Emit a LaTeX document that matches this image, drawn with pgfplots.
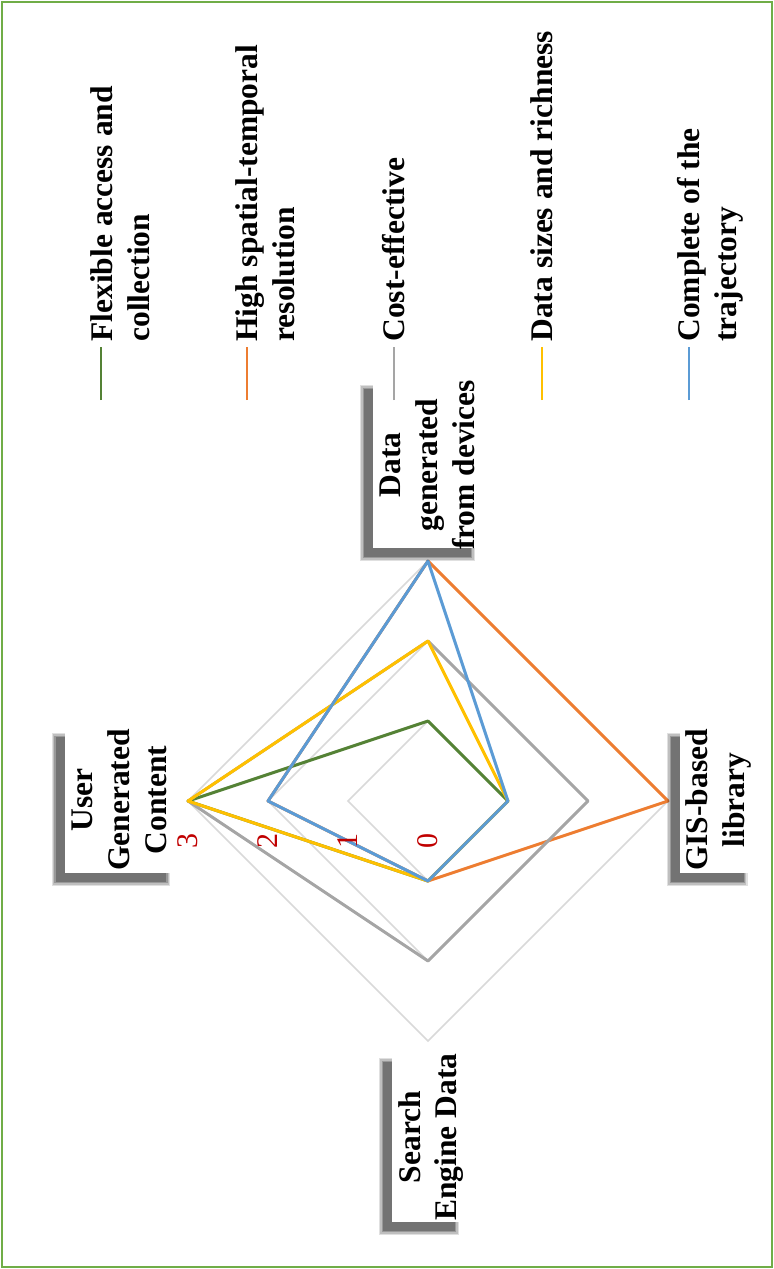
\documentclass[border=0pt]{standalone}
\usepackage{pgfplots}
\pgfplotsset{compat=1.18}
\usepackage{fontspec}
\setmainfont{Liberation Serif}
\definecolor{cgreen}{HTML}{548235}
\definecolor{corange}{HTML}{ED7D31}
\definecolor{cgray}{HTML}{A5A5A5}
\definecolor{cyellow}{HTML}{FFC000}
\definecolor{cblue}{HTML}{5B9BD5}
\definecolor{cgrid}{HTML}{D9D9D9}
\definecolor{cframe}{HTML}{70AD47}
\definecolor{ctick}{HTML}{C00000}
\newcommand{\shbox}[4]{%
 \fill[black, opacity=0.12] ([shift={(-6.5pt,-6.5pt)}]axis cs:#1,#2) rectangle ([shift={(-2.5pt,-2.5pt)}]axis cs:#3,#4);
 \fill[black, opacity=0.15] ([shift={(-5.8pt,-5.8pt)}]axis cs:#1,#2) rectangle ([shift={(-3.2pt,-3.2pt)}]axis cs:#3,#4);
 \fill[black, opacity=0.2] ([shift={(-5.2pt,-5.2pt)}]axis cs:#1,#2) rectangle ([shift={(-3.8pt,-3.8pt)}]axis cs:#3,#4);
 \fill[black, opacity=0.25] ([shift={(-4.6pt,-4.6pt)}]axis cs:#1,#2) rectangle ([shift={(-4.4pt,-4.4pt)}]axis cs:#3,#4);
 \fill[white] (axis cs:#1,#2) rectangle (axis cs:#3,#4);}
\begin{document}
\begin{tikzpicture}[
  lab/.style={rotate=90, inner sep=0pt, font=\fontsize{15.75}{18.5}\selectfont\bfseries},
  tck/.style={rotate=90, inner sep=0pt, text=ctick, font=\fontsize{15}{18}\selectfont}]
\path[use as bounding box] (-214pt,-234pt) rectangle (173pt,400.5pt);
\begin{axis}[anchor=origin, at={(0,0)}, x=40pt, y=40pt, hide axis,
  xmin=-3, xmax=3, ymin=-3, ymax=3, clip=false]
% grid diamonds (values 1,2,3)
\addplot[cgrid, line width=0.8pt] coordinates {(0,1) (1,0) (0,-1) (-1,0) (0,1)};
\addplot[cgrid, line width=0.8pt] coordinates {(0,2) (2,0) (0,-2) (-2,0) (0,2)};
\addplot[cgrid, line width=0.8pt] coordinates {(0,3) (3,0) (0,-3) (-3,0) (0,3)};
% series: (devices up, GIS right, search down, UGC left)
\addplot[cgreen, line width=1.5pt, line join=round, line cap=round] coordinates {(0,1) (1,0) (0,-1) (-3,0) (0,1)};
\addplot[corange, line width=1.5pt, line join=round, line cap=round] coordinates {(0,3) (3,0) (0,-1) (-2,0) (0,3)};
\addplot[cgray, line width=1.5pt, line join=round, line cap=round] coordinates {(0,2) (2,0) (0,-2) (-3,0) (0,2)};
\addplot[cyellow, line width=1.5pt, line join=round, line cap=round] coordinates {(0,2) (1,0) (0,-1) (-3,0) (0,2)};
\addplot[cblue, line width=1.5pt, line join=round, line cap=round] coordinates {(0,3) (1,0) (0,-1) (-2,0) (0,3)};
% tick labels
\node[tck] at (axis cs:0,-0.5) {0};
\node[tck] at (axis cs:-1,-0.5) {1};
\node[tck] at (axis cs:-2,-0.5) {2};
\node[tck] at (axis cs:-3,-0.5) {3};
% category boxes
\shbox{-4.54}{-0.9}{-3.16}{0.9125}
\node[lab, anchor=base] at (axis cs:-4.1875,0.0125) {User};
\node[lab, anchor=base] at (axis cs:-3.725,0.0125) {Generated};
\node[lab, anchor=base] at (axis cs:-3.2625,0.0125) {Content};
\shbox{-0.6875}{3.1625}{0.65}{5.2625}
\node[lab, anchor=base] at (axis cs:-0.34,4.2) {Data};
\node[lab, anchor=base] at (axis cs:0.12,4.2) {generated};
\node[lab, anchor=base] at (axis cs:0.58,4.2) {from devices};
\shbox{3.15}{-0.9}{4.06}{0.9125}
\node[lab, anchor=base] at (axis cs:3.5,0.0125) {GIS-based};
\node[lab, anchor=base] at (axis cs:3.9625,0.0125) {library};
\shbox{-0.45}{-5.2625}{0.45}{-3.15}
\node[lab, anchor=base] at (axis cs:-0.0875,-4.2) {Search};
\node[lab, anchor=base] at (axis cs:0.3625,-4.2) {Engine Data};
% legend
\draw[cgreen, line width=1.3pt] (axis cs:-4.0875,5.0125) -- (axis cs:-4.0875,5.675);
\node[lab, anchor=base west] at (axis cs:-3.95,5.7375) {Flexible access and};
\node[lab, anchor=base west] at (axis cs:-3.4875,5.7375) {collection};
\draw[corange, line width=1.3pt] (axis cs:-2.2625,5.0125) -- (axis cs:-2.2625,5.675);
\node[lab, anchor=base west] at (axis cs:-2.125,5.7375) {High spatial-temporal};
\node[lab, anchor=base west] at (axis cs:-1.6625,5.7375) {resolution};
\draw[cgray, line width=1.3pt] (axis cs:-0.425,5.0125) -- (axis cs:-0.425,5.675);
\node[lab, anchor=base west] at (axis cs:-0.2875,5.7375) {Cost-effective};
\draw[cyellow, line width=1.3pt] (axis cs:1.425,5.0125) -- (axis cs:1.425,5.675);
\node[lab, anchor=base west] at (axis cs:1.5625,5.7375) {Data sizes and richness};
\draw[cblue, line width=1.3pt] (axis cs:3.2625,5.0125) -- (axis cs:3.2625,5.675);
\node[lab, anchor=base west] at (axis cs:3.4,5.7375) {Complete of the};
\node[lab, anchor=base west] at (axis cs:3.8625,5.7375) {trajectory};
\end{axis}
\draw[cframe, line width=1.1pt] (-212.8pt,-232.8pt) rectangle (171.8pt,399.3pt);
\end{tikzpicture}
\end{document}
